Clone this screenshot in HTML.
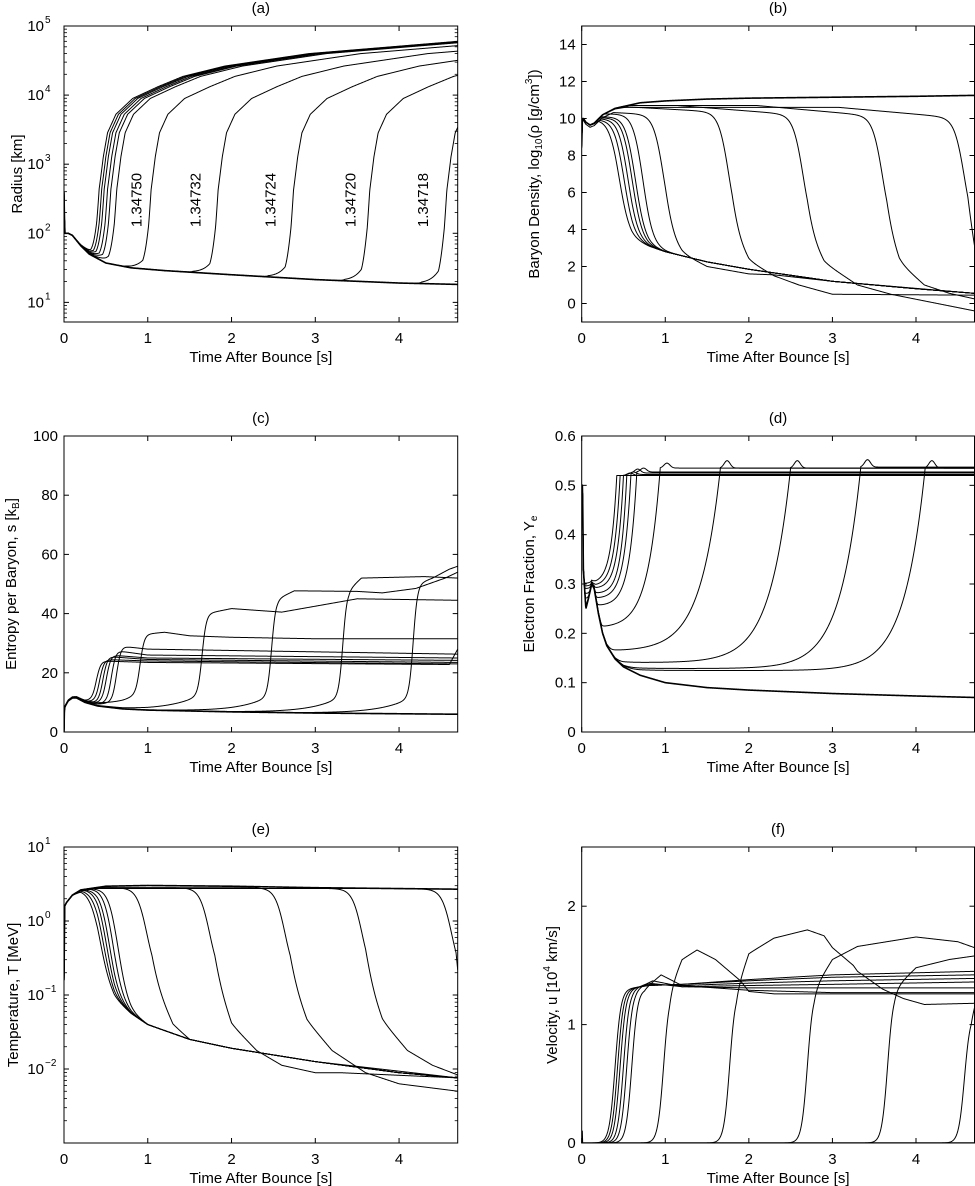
<!DOCTYPE html>
<html><head><meta charset="utf-8"><title>Supernova simulation panels</title>
<style>
html,body{margin:0;padding:0;background:#fff;}
svg{display:block;font-family:"Liberation Sans",Arial,sans-serif;}
text{fill:#000;}
</style></head>
<body>
<svg id="fig" xmlns="http://www.w3.org/2000/svg" width="975" height="1186" viewBox="0 0 975 1186"></svg>
<script>
// ---------- DATA ----------
// (a) Radius (log10 km)
const aOn=[0.42,0.45,0.48,0.52,0.56,0.63,1.04,1.84,2.74,3.65,4.57,null];
const aPreT=[0,0.004,0.01,0.05,0.1,0.2,0.3,0.5,0.8,1.2,2,3,4,4.7];
const aPreV=[2.6,2.3,2.0,2.0,1.97,1.82,1.7,1.57,1.5,1.46,1.4,1.33,1.28,1.26];
const aPostDt=[-0.5,-0.3,-0.1,-0.03,0,0.05,0.1,0.2,0.4,0.7,1.0,1.5,2.5,4.3];
const aPostV=[-3,0,1.0,2.0,2.6,3.1,3.45,3.72,3.95,4.12,4.27,4.42,4.6,4.78];
const aLabels=["1.34750","1.34732","1.34724","1.34720","1.34718"];
const aLabelT=[0.88,1.58,2.48,3.43,4.3];
// (b) density (log10)
const bOn=[0.44,0.50,0.55,0.60,0.64,0.73,0.98,1.76,2.65,3.60,4.58,null];
const bPreT=[0,0.008,0.02,0.05,0.1,0.15,0.25,0.4,0.7,1,1.5,2,3,4,4.7];
const bPreV=[8.5,10.0,10.0,9.8,9.65,9.75,10.2,10.55,10.85,10.95,11.05,11.1,11.15,11.2,11.25];
const bCap=[9.95,9.95,10.0,10.05,10.1,10.25,10.5,10.7,10.7,10.7,10.6,99];
const bDecl=[0,0,0,0,0,0,0.2,0.25,0.35,0.4,0.4,0];
const bEnvT=[0.4,0.6,0.8,1,1.5,2,3,4,4.7];
const bEnvV=[4.2,3.5,3.1,2.8,2.25,1.85,1.2,0.8,0.55];
const bPostT=[bEnvT,bEnvT,bEnvT,bEnvT,bEnvT,bEnvT,
 [1.0,1.2,1.5,2.0,2.3,3,4.7],[1.8,2.0,2.3,2.6,3.0,4.7],[2.7,2.9,3.3,3.7,4.7],[3.65,3.8,4.1,4.4,4.7],[4.62,4.7],[0]];
const bPostV=[bEnvV,bEnvV,bEnvV,bEnvV,bEnvV,bEnvV,
 [3.5,2.7,2.0,1.6,1.55,1.2,0.55],[3.6,2.3,1.5,1.0,0.5,0.45],[3.6,2.2,1.0,0.5,-0.4],[3.6,2.2,1.0,0.55,0.25],[3.6,2.2],[0]];
// (c) entropy
const cOn=[0.39,0.43,0.47,0.51,0.57,0.63,0.91,1.65,2.48,3.33,4.17,null];
const cTau=[0.1,0.1,0.1,0.12,0.12,0.15,0.3,0.35,0.35,0.35,0.35,0.35];
const cAmp=[3,3,3,3,3,3,6,6,6,6,6,0];
const cPreT=[0,0.005,0.02,0.05,0.1,0.15,0.25,0.4,0.7,1,2,3,4.7];
const cPreV=[0,8,9,10.5,11.5,11.5,10,8.8,7.8,7.4,6.8,6.4,6.0];
const cPostT=[[0.44,1,4.6,4.7],[0.48,1,4.7],[0.52,1,4.7],[0.56,1,4.7],[0.62,1,4.7],[0.68,1,4.7],
 [0.95,1.2,1.5,2,3,4.7],[1.7,2.0,2.6,2.9,3.3,3.5,4.7],[2.55,2.75,3.5,3.8,4.2,4.55,4.7],[3.4,3.55,4.3,4.7],[4.22,4.4,4.6,4.7],[0]];
const cPostV=[[24,23.5,22.8,28],[24.5,24,23],[25.5,24.5,23.5],[26,25,24.2],[27.5,26,25],[29,28,26.3],
 [33,33.7,32.5,32,31.5,31.5],[40,41.7,40.5,42,44,45,44.5],[45,47.7,47.5,47,48.5,52,54],[48,52,52.5,52],[50,52,55,56],[0]];
// (d) electron fraction
const dOn=[0.42,0.46,0.50,0.54,0.59,0.66,0.94,1.66,2.50,3.34,4.11,null];
const dMin=[0.30,0.295,0.29,0.28,0.27,0.255,0.21,0.163,0.14,0.128,0.124,0];
const dTau=[0.07,0.07,0.07,0.07,0.08,0.09,0.15,0.24,0.25,0.25,0.25,1];
const dPlat=[0.52,0.52,0.52,0.522,0.525,0.527,0.535,0.535,0.535,0.537,0.535,0];
const dBump=[0,0,0.005,0.005,0.008,0.008,0.01,0.015,0.015,0.015,0.015,0];
const dPreT=[0,0.01,0.02,0.05,0.08,0.12,0.15,0.2,0.25,0.3,0.4,0.5,0.7,1,1.5,2,3,4,4.7];
const dPreV=[0.5,0.5,0.33,0.25,0.27,0.30,0.29,0.24,0.20,0.175,0.148,0.132,0.115,0.10,0.09,0.085,0.078,0.073,0.07];
// (e) temperature (log10 MeV)
const eOn=[0.41,0.45,0.49,0.53,0.58,0.64,0.99,1.74,2.64,3.56,4.63,null];
const ePreT=[0,0.008,0.03,0.1,0.2,0.5,1,2,3,4.7];
const ePreV=[-0.8,0.2,0.25,0.35,0.42,0.47,0.48,0.47,0.45,0.43];
const eCap=[0.42,0.42,0.43,0.43,0.44,0.44,0.45,0.45,0.45,0.44,0.44,99];
const eEnvT=[0.4,0.6,0.8,1,1.5,2,3,4,4.7];
const eEnvV=[-0.7,-1.05,-1.25,-1.4,-1.6,-1.72,-1.9,-2.05,-2.12];
const ePostT=[eEnvT,eEnvT,eEnvT,eEnvT,eEnvT,eEnvT,
 [1.05,1.3,1.5,2,3,4.7],[1.8,2.0,2.3,2.6,3.0,3.3,4.7],[2.7,2.9,3.2,3.6,4.0,4.7],[3.6,3.8,4.1,4.4,4.7],[4.68,4.75],[0]];
const ePostV=[eEnvV,eEnvV,eEnvV,eEnvV,eEnvV,eEnvV,
 [-0.8,-1.4,-1.6,-1.72,-1.9,-2.12],[-0.8,-1.4,-1.75,-1.95,-2.05,-2.05,-2.12],[-0.8,-1.35,-1.75,-2.05,-2.2,-2.3],[-0.8,-1.35,-1.75,-1.95,-2.08],[-0.8,-1.5],[0]];
// (f) velocity (1e4 km/s)
const fOn=[0.40,0.43,0.46,0.50,0.54,0.60,0.98,1.77,2.70,3.66,4.58,null];
const fPostT=[[0.5,0.8,1.2,2,3,4.7],[0.53,0.8,1.2,2,3,4.7],[0.56,0.8,1.2,2,3,4.7],[0.6,0.8,1.2,2,3,4.7],[0.64,0.85,1.2,2,3,4.7],[0.75,0.95,1.2,2,3,4.7],
 [1.05,1.2,1.38,1.6,1.9,2.0,2.3,3,4.7],[1.85,2.0,2.3,2.7,2.9,3.0,3.25,3.3,3.6,3.85,4.1,4.7],[2.78,3.0,3.3,4.0,4.5,4.7],[3.74,4.0,4.4,4.7],[4.66,4.7],[0]];
const fPostV=[[1.3,1.33,1.34,1.38,1.42,1.45],[1.3,1.33,1.34,1.37,1.40,1.42],[1.3,1.34,1.33,1.35,1.37,1.39],[1.3,1.35,1.32,1.33,1.34,1.36],[1.3,1.37,1.32,1.31,1.31,1.31],[1.3,1.42,1.33,1.29,1.27,1.27],
 [1.3,1.55,1.63,1.55,1.37,1.28,1.26,1.26,1.26],[1.3,1.6,1.73,1.8,1.75,1.65,1.5,1.45,1.3,1.22,1.17,1.18],[1.3,1.55,1.66,1.74,1.7,1.65],[1.3,1.48,1.55,1.58],[1.1,1.18],[0]];
const xTicks=[0,1,2,3,4];

// ---------- HELPERS ----------
const NS="http://www.w3.org/2000/svg";
const svg=document.getElementById('fig');
function mk(tag,attrs,parent){const e=document.createElementNS(NS,tag);for(const k in attrs)e.setAttribute(k,attrs[k]);(parent||svg).appendChild(e);return e;}
function interp(T,V,t){if(t<=T[0])return V[0];for(let k=1;k<T.length;k++){if(t<=T[k]){const f=(t-T[k-1])/(T[k]-T[k-1]);return V[k-1]+f*(V[k]-V[k-1]);}}return V[V.length-1];}
const sig=z=>1/(1+Math.exp(-z));
const smax=(a,b)=>(a+b+Math.sqrt((a-b)*(a-b)+0.0001))/2;

function fa(i,t){const pre=interp(aPreT,aPreV,t);if(aOn[i]===null)return pre;
 return Math.log10(Math.pow(10,pre)+Math.pow(10,interp(aPostDt,aPostV,t-aOn[i])));}
function fb(i,t){let pre=Math.min(interp(bPreT,bPreV,t),bCap[i]);if(bOn[i]===null)return pre;
 pre-=bDecl[i]*Math.max(0,t-bOn[i]+1.5);const s=sig((t-bOn[i])/0.06);return pre*(1-s)+interp(bPostT[i],bPostV[i],t)*s;}
function fc(i,t){const base=interp(cPreT,cPreV,t);const t0=cOn[i];if(t0===null)return base;
 const pre=base+cAmp[i]*Math.exp(Math.min(0,t-t0)/cTau[i]);const s=sig((t-t0)/0.025);return pre*(1-s)+interp(cPostT[i],cPostV[i],t)*s;}
function fd(i,t){const base=interp(dPreT,dPreV,t);if(dOn[i]===null)return base;const t0=dOn[i];
 if(t<t0)return smax(base,dMin[i])+(dPlat[i]-dMin[i])*Math.exp((t-t0)/dTau[i]);
 return dPlat[i]+dBump[i]*Math.exp(-Math.pow((t-t0-0.08)/0.05,2));}
function fe(i,t){let pre=Math.min(interp(ePreT,ePreV,t),eCap[i]);if(eOn[i]===null)return pre;
 const s=sig((t-eOn[i])/0.06);return pre*(1-s)+interp(ePostT[i],ePostV[i],t)*s;}
function ff(i,t){if(fOn[i]===null)return t<0.008?0.1:0;const s=sig((t-fOn[i])/0.035);return interp(fPostT[i],fPostV[i],t)*s;}

const COLS=[[64,457.7],[581.7,974.5]];
const ROWS=[[26,322],[436,732],[847,1143]];
const panels=[
 {id:'a',c:0,r:0,y0:Math.log10(5.2),y1:5,log:true,maj:[1,2,3,4,5],lab:[1,2,3,4,5],fn:fa,ylab:'Radius [km]',yx:18},
 {id:'b',c:1,r:0,y0:-1,y1:15,log:false,maj:[0,2,4,6,8,10,12,14],fn:fb,ylab:'b',yx:535},
 {id:'c',c:0,r:1,y0:0,y1:100,log:false,maj:[0,20,40,60,80,100],fn:fc,ylab:'c',yx:12},
 {id:'d',c:1,r:1,y0:0,y1:0.6,log:false,maj:[0,0.1,0.2,0.3,0.4,0.5,0.6],fn:fd,ylab:'d',yx:530},
 {id:'e',c:0,r:2,y0:-3,y1:1,log:true,maj:[-3,-2,-1,0,1],lab:[-2,-1,0,1],fn:fe,ylab:'Temperature, T [MeV]',yx:14},
 {id:'f',c:1,r:2,y0:0,y1:2.5,log:false,maj:[0,1,2],fn:ff,ylab:'f',yx:553}
];

panels.forEach(p=>{
 const L=COLS[p.c][0],R=COLS[p.c][1],T=ROWS[p.r][0],B=ROWS[p.r][1];
 const X=t=>L+(R-L)*t/4.7, Y=v=>B-(B-T)*(v-p.y0)/(p.y1-p.y0);
 const g=mk('g',{});
 
 
 const cp=mk('clipPath',{id:'clip'+p.id},g);mk('rect',{x:L,y:T,width:R-L,height:B-T},cp);
 const cg=mk('g',{'clip-path':'url(#clip'+p.id+')'},g);
 for(let i=0;i<12;i++){
  let d='';for(let t=0;t<=4.7001;t+=0.004){const v=p.fn(i,t);d+=(t===0?'M':'L')+X(t).toFixed(2)+','+Y(v).toFixed(2);}
  const path=mk('path',{d:d,fill:'none',stroke:'#000','stroke-width':(i===11?1.6:1.0),'stroke-linejoin':'round'},cg);
  
  
 }
 const box=mk('rect',{x:L,y:T,width:R-L,height:B-T,fill:'none',stroke:'#000','stroke-width':1},g);
 
 
 xTicks.forEach(v=>{const x=X(v);
  mk('line',{x1:x,y1:B,x2:x,y2:B-5,stroke:'#000'},g);mk('line',{x1:x,y1:T,x2:x,y2:T+5,stroke:'#000'},g);
  const tx=mk('text',{x:x,y:B+21,'font-size':15,'text-anchor':'middle'},g);tx.textContent=v;
  
  });
 const xt=mk('text',{x:(L+R)/2,y:B+40,'font-size':15,'text-anchor':'middle'},g);xt.textContent='Time After Bounce [s]';
 
 
 const tt=mk('text',{x:(L+R)/2,y:T-13,'font-size':15,'text-anchor':'middle'},g);tt.textContent='('+p.id+')';
 
 
 p.maj.forEach(v=>{const y=Y(v);
  mk('line',{x1:L,y1:y,x2:L+5,y2:y,stroke:'#000'},g);mk('line',{x1:R,y1:y,x2:R-5,y2:y,stroke:'#000'},g);
  if(p.log){
   if(p.lab.indexOf(v)>=0){const tx=mk('text',{x:L-20,y:y+5,'font-size':15,'text-anchor':'end'},g);tx.textContent='10';
    
    
    const sp=mk('text',{x:L-19,y:y-3,'font-size':10,'text-anchor':'start'},g);sp.textContent=String(v).replace('-','\u2212');
    
    }
  }else{const tx=mk('text',{x:L-6,y:y+5,'font-size':15,'text-anchor':'end'},g);tx.textContent=String(v);
   
   }
 });
 if(p.log){for(let dcd=Math.floor(p.y0);dcd<p.y1;dcd++){for(let m=2;m<=9;m++){const v=dcd+Math.log10(m);if(v<=p.y0||v>=p.y1)continue;const y=Y(v);
  mk('line',{x1:L,y1:y,x2:L+3,y2:y,stroke:'#000','stroke-width':0.8},g);mk('line',{x1:R,y1:y,x2:R-3,y2:y,stroke:'#000','stroke-width':0.8},g);}}}
 const cy=(T+B)/2;
 const yt=mk('text',{x:p.yx,y:cy,'font-size':15,'text-anchor':'middle',transform:'rotate(-90 '+p.yx+' '+cy+')','dominant-baseline':'middle'},g);
 
 
 if(p.ylab==='b'){yt.innerHTML='Baryon Density, log<tspan font-size="10" dy="4">10</tspan><tspan dy="-4">(\u03c1 [g/cm</tspan><tspan font-size="10" dy="-6">3</tspan><tspan dy="6">])</tspan>';}
 else if(p.ylab==='c'){yt.innerHTML='Entropy per Baryon, s [k<tspan font-size="10" dy="4">B</tspan><tspan dy="-4">]</tspan>';}
 else if(p.ylab==='d'){yt.innerHTML='Electron Fraction, Y<tspan font-size="10" dy="4">e</tspan>';}
 else if(p.ylab==='f'){yt.innerHTML='Velocity, u [10<tspan font-size="10" dy="-6">4</tspan><tspan dy="6"> km/s]</tspan>';}
 else yt.textContent=p.ylab;
 if(p.id==='a'){
  aLabels.forEach((s,k)=>{const x=X(aLabelT[k]),y=200;
   const lt=mk('text',{x:x,y:y,'font-size':15,'text-anchor':'middle',transform:'rotate(-90 '+x+' '+y+')','dominant-baseline':'middle'},g);
   lt.textContent=s;
   
   });
 }
});
</script>
</body></html>
